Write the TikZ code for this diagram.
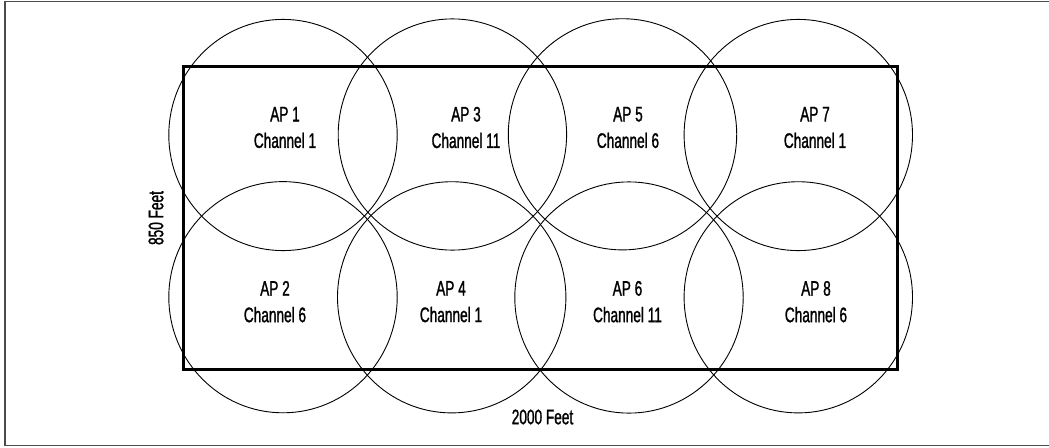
\documentclass[tikz,border=0pt]{standalone}
\usepackage{fontspec}
\newfontfamily\aplabel{Liberation Sans}[FakeStretch=0.65,FakeBold=1.2]
\begin{document}
\begin{tikzpicture}[x=1pt,y=-1pt,
  apcircle/.style={draw=black,line width=0.9pt},
  sitebox/.style={draw=black,line width=3pt},
  framebox/.style={draw=black!70,line width=1.5pt},
  lbl/.style={font=\aplabel\fontsize{21}{26.5}\selectfont,align=center,inner sep=0pt},
  dimlbl/.style={font=\aplabel\fontsize{21}{26}\selectfont,inner sep=0pt}]
\useasboundingbox (0,0) rectangle (1049,447);
% outer frame (right side lies outside the picture)
\draw[framebox] (1049,1.5) -- (5,1.5) -- (5,445.7) -- (1049,445.7);
% coverage circles
\foreach \cx/\cy in {283/135, 452.4/134.5, 622.5/134.3, 798.3/135,
                     283/297.2, 451.7/297.3, 629/297.5, 798.3/297.3}
  \draw[apcircle] (\cx,\cy) ellipse [x radius=114.2, y radius=115.6];
% building outline
\draw[sitebox] (183.3,66.7) rectangle (897.7,369);
% labels
\node[lbl] (ap1) at (285,127.5) {AP 1\\Channel 1};
\node[lbl] (ap3) at (466,127.5) {AP 3\\Channel 11};
\node[lbl] (ap5) at (628,127.5) {AP 5\\Channel 6};
\node[lbl] (ap7) at (815,127.5) {AP 7\\Channel 1};
\node[lbl] (ap2) at (275,301.7) {AP 2\\Channel 6};
\node[lbl] (ap4) at (451,301.7) {AP 4\\Channel 1};
\node[lbl] (ap6) at (627.5,301.7) {AP 6\\Channel 11};
\node[lbl] (ap8) at (816,301.7) {AP 8\\Channel 6};
\node[dimlbl,rotate=90] (h) at (156,218) {850 Feet};
\node[dimlbl] (w) at (542.5,417) {2000 Feet};
\end{tikzpicture}
\end{document}
